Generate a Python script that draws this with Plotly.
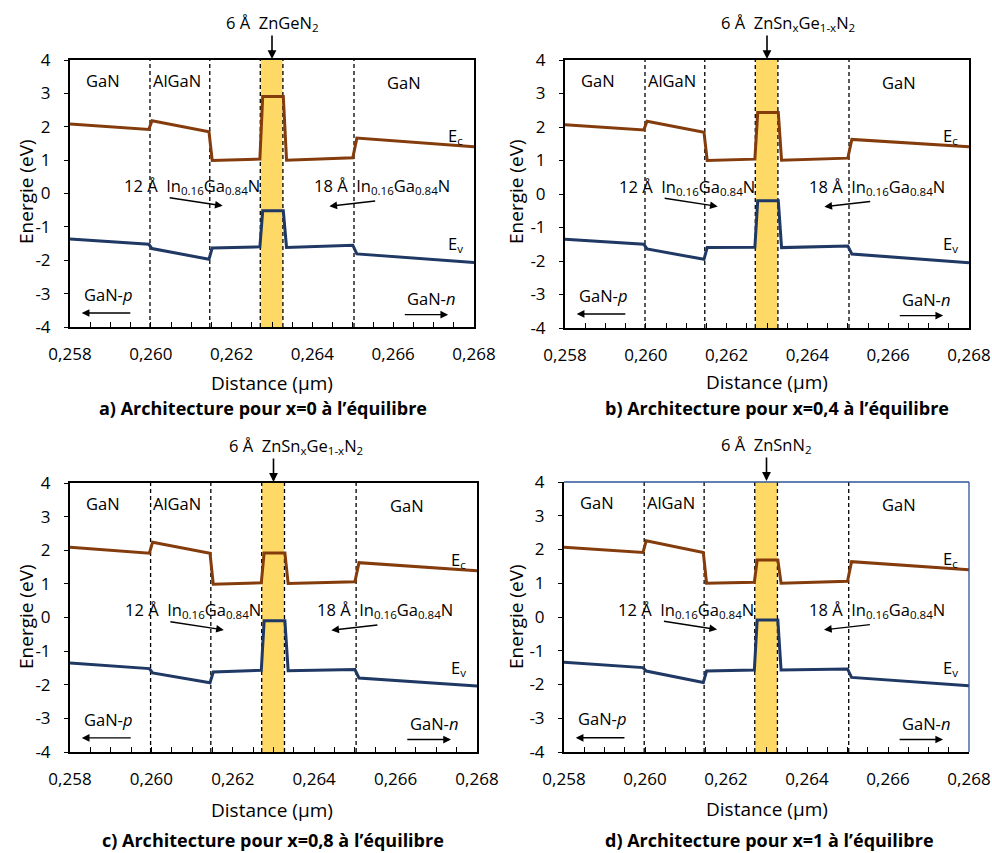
import plotly.graph_objects as go

# ---------------- data ----------------
distance = [0.258, 0.25995, 0.26003, 0.26144, 0.26152, 0.26270, 0.26277,
            0.26328, 0.26336, 0.26500, 0.26510, 0.268]

ec_a = [2.08, 1.92, 2.18, 1.85, 0.99, 1.03, 2.91, 2.91, 1.00, 1.07, 1.66, 1.40]
ev_a = [-1.36, -1.52, -1.65, -1.97, -1.63, -1.60, -0.52, -0.52, -1.62, -1.55, -1.81, -2.07]

ec_b = [2.07, 1.91, 2.17, 1.84, 1.00, 1.04, 2.43, 2.43, 1.01, 1.07, 1.63, 1.41]
ev_b = [-1.35, -1.50, -1.64, -1.95, -1.60, -1.59, -0.20, -0.20, -1.60, -1.55, -1.79, -2.05]

ec_c = [2.09, 1.91, 2.24, 1.91, 0.99, 1.03, 1.92, 1.92, 1.01, 1.06, 1.63, 1.39]
ev_c = [-1.35, -1.52, -1.65, -1.94, -1.62, -1.57, -0.10, -0.10, -1.58, -1.55, -1.80, -2.04]

ec_d = [2.07, 1.91, 2.26, 1.91, 1.00, 1.03, 1.69, 1.69, 1.00, 1.06, 1.64, 1.40]
ev_d = [-1.34, -1.50, -1.60, -1.94, -1.60, -1.57, -0.09, -0.09, -1.57, -1.54, -1.79, -2.04]

interfaces = [0.25998, 0.26146, 0.26271, 0.26327, 0.26503]
well = [0.26272, 0.26326]

x_ticks = [0.258, 0.260, 0.262, 0.264, 0.266, 0.268]
x_tick_labels = ["0,258", "0,260", "0,262", "0,264", "0,266", "0,268"]
y_ticks = [-4, -3, -2, -1, 0, 1, 2, 3, 4]
y_tick_labels = ["-4", "-3", "-2", "-1", "0", "1", "2", "3", "4"]

top_labels = ["6 Å  ZnGeN<sub>2</sub>",
              "6 Å  ZnSn<sub>x</sub>Ge<sub>1-x</sub>N<sub>2</sub>",
              "6 Å  ZnSn<sub>x</sub>Ge<sub>1-x</sub>N<sub>2</sub>",
              "6 Å  ZnSnN<sub>2</sub>"]
top_label_x = [0.26302, 0.26352, 0.26355, 0.26300]
captions = ["a) Architecture pour x=0 à l’équilibre",
            "b) Architecture pour x=0,4 à l’équilibre",
            "c) Architecture pour x=0,8 à l’équilibre",
            "d) Architecture pour x=1 à l’équilibre"]

# ---------------- layout helpers ----------------
OFF = 0                       # body margin removed by post_script
W, H = 992, 853
FONT = "Open Sans"
EC_COL = "#843C0C"
EV_COL = "#1F3864"
WELL_COL = "#FFD966"

# plot areas in screen pixels: (left, right, top, bottom)
areas = [(70, 474, 60, 327), (565, 969, 60, 328), (70, 477, 483, 752), (564, 969, 482, 752)]
ytitle_pos = [(26, 192), (516, 192), (26, 617), (516, 617)]
xtitle_pos = [(272, 383), (767, 382), (272, 810), (767, 809)]
caption_pos = [(263, 408), (777, 408), (273, 840), (769, 840)]

def pxx(x):
    return (x - OFF) / W

def pxy(y):
    return 1 - (y - OFF) / H

series = [(ec_a, ev_a), (ec_b, ev_b), (ec_c, ev_c), (ec_d, ev_d)]

fig = go.Figure()
shapes = []
annotations = []
layout = {}

for i, ((ec, ev), (l, r, t, b)) in enumerate(zip(series, areas)):
    n = "" if i == 0 else str(i + 1)
    xa, ya = "x" + n, "y" + n
    fig.add_trace(go.Scatter(x=distance, y=ec, mode="lines", xaxis=xa, yaxis=ya,
                             line=dict(color=EC_COL, width=3), showlegend=False,
                             hoverinfo="skip"))
    fig.add_trace(go.Scatter(x=distance, y=ev, mode="lines", xaxis=xa, yaxis=ya,
                             line=dict(color=EV_COL, width=3), showlegend=False,
                             hoverinfo="skip"))
    last = (i == 3)
    layout["xaxis" + n] = dict(
        domain=[pxx(l), pxx(r)], anchor=ya, range=[0.258, 0.268],
        tickvals=x_ticks, ticktext=x_tick_labels, ticks="inside", ticklen=5,
        tickcolor="black", tickwidth=1.3,
        minor=dict(dtick=0.0005, ticks="inside", ticklen=5, tickcolor="black", tickwidth=1.3),
        showline=True, linecolor="black", linewidth=2, mirror=not last,
        showgrid=False, zeroline=False, ticklabelstandoff=11, automargin=False,
        tickfont=dict(family=FONT, size=17, color="black"))
    layout["yaxis" + n] = dict(
        domain=[pxy(b), pxy(t)], anchor=xa, range=[-4, 4],
        tickvals=y_ticks, ticktext=y_tick_labels, ticks="outside", ticklen=4, tickcolor="black",
        showline=True, linecolor="black", linewidth=2, mirror=not last,
        showgrid=False, zeroline=False, ticklabelstandoff=10, automargin=False,
        tickfont=dict(family=FONT, size=17, color="black"))

    # yellow well
    shapes.append(dict(type="rect", xref=xa, yref=ya, x0=well[0], x1=well[1], y0=-4, y1=4,
                       fillcolor=WELL_COL, line=dict(width=0), layer="below"))
    # dashed interfaces
    for xi in interfaces:
        shapes.append(dict(type="line", xref=xa, yref=ya, x0=xi, x1=xi, y0=-4, y1=4,
                           line=dict(color="black", width=1.3, dash="4px,3px"), layer="below"))
    if last:
        shapes.append(dict(type="line", xref=xa + " domain", yref=ya + " domain",
                           x0=0, x1=1, y0=1, y1=1, line=dict(color="#2F5597", width=1.3)))
        shapes.append(dict(type="line", xref=xa + " domain", yref=ya + " domain",
                           x0=1, x1=1, y0=0, y1=1, line=dict(color="#2F5597", width=1.3)))

    f = dict(family=FONT, size=16.5, color="black")

    def txt(x, y, s, **kw):
        d = dict(xref=xa, yref=ya, x=x, y=y, text=s, showarrow=False, font=f,
                 xanchor="center", yanchor="middle")
        d.update(kw)
        annotations.append(d)

    def arrow(x0, y0, x1, y1):
        annotations.append(dict(xref=xa, yref=ya, axref=xa, ayref=ya, x=x1, y=y1, ax=x0, ay=y0,
                                text="", showarrow=True, arrowhead=2, arrowsize=1.1,
                                arrowwidth=1.4, arrowcolor="black"))

    txt(0.25882, 3.4, "GaN")
    txt(0.26064, 3.4, "AlGaN")
    txt(0.26627, 3.32, "GaN")
    txt(0.26755, 1.72, "E<sub>c</sub>")
    txt(0.26755, -1.5, "E<sub>v</sub>")
    txt(0.26102, 0.22, "12 Å  In<sub>0.16</sub>Ga<sub>0.84</sub>N")
    txt(0.26573, 0.22, "18 Å  In<sub>0.16</sub>Ga<sub>0.84</sub>N")
    arrow(0.26043, -0.12, 0.26178, -0.37)
    arrow(0.26559, -0.22, 0.26442, -0.38)
    txt(0.25893, -3.02, "GaN-<i>p</i>")
    arrow(0.25953, -3.58, 0.25829, -3.58)
    txt(0.26694, -3.15, "GaN-<i>n</i>")
    arrow(0.26625, -3.63, 0.26736, -3.63)

    # label above the plot (outside the axis range -> domain reference)
    annotations.append(dict(xref=xa, yref=ya + " domain", x=top_label_x[i], y=1.137,
                            text=top_labels[i], showarrow=False, font=f,
                            xanchor="center", yanchor="middle"))
    annotations.append(dict(xref=xa, yref=ya + " domain", x=0.26300, y=1.004,
                            axref="pixel", ayref="pixel", ax=0, ay=-25,
                            text="", showarrow=True, arrowhead=2, arrowsize=1.1,
                            arrowwidth=1.6, arrowcolor="black"))

    # titles
    annotations.append(dict(xref="paper", yref="paper", x=pxx(ytitle_pos[i][0]), y=pxy(ytitle_pos[i][1]),
                            xanchor="center", yanchor="middle",
                            text="Energie (eV)", textangle=-90, showarrow=False,
                            font=dict(family=FONT, size=19, color="black")))
    annotations.append(dict(xref="paper", yref="paper", x=pxx(xtitle_pos[i][0]), y=pxy(xtitle_pos[i][1]),
                            xanchor="center", yanchor="middle",
                            text="Distance (µm)", showarrow=False,
                            font=dict(family=FONT, size=19, color="black")))
    annotations.append(dict(xref="paper", yref="paper", x=pxx(caption_pos[i][0]), y=pxy(caption_pos[i][1]),
                            xanchor="center", yanchor="middle",
                            text="<b>" + captions[i] + "</b>", showarrow=False,
                            font=dict(family=FONT, size=18, color="black")))

fig.update_layout(**layout)
fig.update_layout(width=W, height=H, margin=dict(l=0, r=0, t=0, b=0, pad=0, autoexpand=False),
                  paper_bgcolor="white", plot_bgcolor="rgba(0,0,0,0)",
                  shapes=shapes, annotations=annotations, showlegend=False)

fig.write_html("out.html", config={"displayModeBar": False},
               post_script="document.body.style.margin='0';document.body.style.overflow='hidden';")
